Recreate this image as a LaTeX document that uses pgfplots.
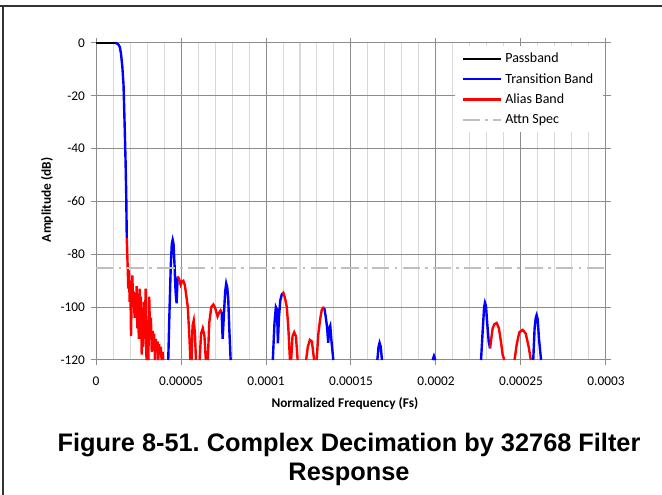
\documentclass[border=0pt]{standalone}
\usepackage{pgfplots}
\pgfplotsset{compat=1.18}
\usepackage{fontspec}
\setmainfont{Carlito}
\newfontfamily\arialfont{Liberation Sans}
\frenchspacing

\definecolor{majgrid}{RGB}{140,140,140}
\definecolor{mingrid}{RGB}{217,217,217}
\definecolor{specgray}{RGB}{191,191,191}
\definecolor{xlblue}{RGB}{0,0,255}
\definecolor{xlred}{RGB}{255,0,0}

\pgfplotstableread{
x y
0 0
1.12e-5 0
}\passband

\pgfplotstableread{
x y
1.12e-5 0
1.22e-5 -0.1
1.32e-5 -0.6
1.40e-5 -1.5
1.47e-5 -4
1.55e-5 -9
1.62e-5 -16
1.68e-5 -30
1.74e-5 -45
1.78e-5 -58
1.81e-5 -73.9
nan nan
4.25e-5 -120
4.33e-5 -100
4.40e-5 -84
4.46e-5 -76
4.51e-5 -74.5
4.56e-5 -76
4.62e-5 -84
4.68e-5 -94
4.74e-5 -98.5
4.78e-5 -92
4.81e-5 -88.4
nan nan
7.39e-5 -101.8
7.45e-5 -112
7.53e-5 -102
7.60e-5 -94
7.66e-5 -91
7.72e-5 -92.5
7.78e-5 -97
7.84e-5 -108
7.92e-5 -120
nan nan
1.040e-4 -120
1.050e-4 -106
1.058e-4 -100
1.065e-4 -101
1.070e-4 -113.7
1.076e-4 -104
1.084e-4 -97.5
1.092e-4 -95.4
1.096e-4 -94.8
nan nan
1.343e-4 -100.4
1.351e-4 -103.5
1.359e-4 -107.4
1.366e-4 -113.5
1.372e-4 -108
1.378e-4 -107
1.384e-4 -112
1.396e-4 -120
nan nan
1.655e-4 -120
1.662e-4 -115
1.668e-4 -113.5
1.675e-4 -115
1.682e-4 -120
nan nan
1.980e-4 -120
1.988e-4 -118.5
1.996e-4 -120
nan nan
2.265e-4 -120
2.275e-4 -108.6
2.283e-4 -100
2.288e-4 -98.3
2.294e-4 -99.5
2.300e-4 -105
2.310e-4 -113
2.318e-4 -115.6
nan nan
2.572e-4 -120
2.580e-4 -108
2.587e-4 -104
2.592e-4 -103
2.598e-4 -104.5
2.606e-4 -112
2.618e-4 -120
}\transition

\pgfplotstableread{
x y
1.81e-5 -73.9
1.86e-5 -84
1.90e-5 -93
1.94e-5 -86
1.98e-5 -98
2.02e-5 -90
2.06e-5 -111
2.10e-5 -95
2.14e-5 -88
2.18e-5 -100
2.22e-5 -94
2.27e-5 -104
2.31e-5 -96
2.35e-5 -102
2.39e-5 -92
2.43e-5 -108
2.47e-5 -98
2.52e-5 -112
2.56e-5 -93
2.60e-5 -100
2.64e-5 -96
2.69e-5 -118
2.73e-5 -104
2.78e-5 -115
2.82e-5 -98
2.87e-5 -112
2.92e-5 -93
2.97e-5 -120
3.02e-5 -105
3.08e-5 -120
3.13e-5 -96
3.18e-5 -110
3.23e-5 -104
3.28e-5 -117
3.33e-5 -109
3.37e-5 -114
3.42e-5 -110
3.47e-5 -120
3.52e-5 -112
3.57e-5 -116
3.62e-5 -113
3.66e-5 -120
3.71e-5 -114
3.76e-5 -118
3.81e-5 -115
3.86e-5 -120
3.92e-5 -117
3.95e-5 -120
nan nan
4.81e-5 -88.4
4.90e-5 -89.5
4.98e-5 -91.5
5.06e-5 -90.3
5.14e-5 -90
5.22e-5 -91.5
5.30e-5 -95
5.40e-5 -100
5.50e-5 -112
5.55e-5 -120
nan nan
5.62e-5 -120
5.68e-5 -107
5.75e-5 -105
5.82e-5 -110
5.88e-5 -120
nan nan
6.10e-5 -120
6.18e-5 -110
6.28e-5 -108
6.38e-5 -111
6.46e-5 -120
nan nan
6.58e-5 -120
6.66e-5 -106
6.78e-5 -100
6.90e-5 -99
7.02e-5 -100.5
7.15e-5 -103.5
7.25e-5 -102
7.33e-5 -101.2
7.39e-5 -101.8
nan nan
1.096e-4 -94.8
1.102e-4 -94.5
1.112e-4 -96.6
1.122e-4 -99.8
1.131e-4 -107.4
1.141e-4 -120
nan nan
1.148e-4 -120
1.156e-4 -111
1.166e-4 -109.5
1.176e-4 -111
1.186e-4 -120
nan nan
1.236e-4 -120
1.246e-4 -115
1.258e-4 -112.4
1.270e-4 -113
1.283e-4 -120
nan nan
1.298e-4 -120
1.308e-4 -110
1.318e-4 -104.8
1.328e-4 -101
1.337e-4 -100.2
1.343e-4 -100.4
nan nan
2.318e-4 -115.6
2.325e-4 -112
2.333e-4 -108
2.343e-4 -106.5
2.357e-4 -106
2.370e-4 -108
2.382e-4 -113
2.392e-4 -118
2.402e-4 -120
nan nan
2.462e-4 -120
2.475e-4 -114
2.490e-4 -109.5
2.510e-4 -108.6
2.528e-4 -110
2.545e-4 -115
2.558e-4 -120
}\alias

\pgfplotstableread{
x y
0 -85
0.0003 -85
}\attn

\begin{document}
\begin{tikzpicture}
\path[use as bounding box] (0pt,0pt) rectangle (496.5pt,-371.25pt);
\draw[black!80, line width=1.1pt] (0pt,-4.5pt) -- (496.5pt,-4.5pt);
\draw[black!80, line width=1.1pt] (2.25pt,-4.5pt) -- (2.25pt,-371.25pt);
\begin{axis}[
  at={(72pt,-270pt)}, anchor=south west,
  scale only axis, width=382.5pt, height=237.75pt,
  xmin=0, xmax=0.0003, ymin=-120, ymax=0,
  clip=false,
  unbounded coords=jump,
  xtick={0,0.00005,0.0001,0.00015,0.0002,0.00025,0.0003},
  xticklabels={0,0.00005,0.0001,0.00015,0.0002,0.00025,0.0003},
  scaled x ticks=false,
  minor x tick num=4,
  ytick={-120,-100,-80,-60,-40,-20,0},
  yticklabels={-120,-100,-80,-60,-40,-20,0},
  grid=both,
  major grid style={draw=majgrid, line width=0.75pt},
  minor grid style={draw=mingrid, line width=0.75pt},
  axis line style={draw=majgrid, line width=0.75pt},
  tick align=outside,
  major tick length=3.75pt, minor tick length=0pt,
  tick style={draw=majgrid, line width=0.75pt},
  ticklabel style={font=\fontsize{10}{12}\selectfont},
  xticklabel style={yshift=-5.5pt},
  yticklabel style={xshift=-1pt},
  xlabel={Normalized Frequency (Fs)}, ylabel={Amplitude (dB)},
  label style={font=\bfseries\fontsize{10}{12}\selectfont},
  xlabel style={at={(axis description cs:0.488,-0.1375)}, anchor=center},
  ylabel style={at={(axis description cs:-0.096,0.505)}, anchor=center},
  legend style={at={(axis description cs:0.994,0.9905)}, anchor=north east,
    draw=none, fill=white, font=\fontsize{10.5}{12}\selectfont,
    cells={anchor=west}, row sep=2.5pt, inner xsep=5pt, inner ysep=3pt},
  legend image code/.code={\draw[#1] (0pt,0pt) -- (29pt,0pt);},
]
\addplot[black, line width=1.8pt] table[x=x,y=y] {\passband};
\addlegendentry{Passband}
\addplot[xlblue, line width=1.8pt] table[x=x,y=y] {\transition};
\addlegendentry{Transition Band}
\addplot[xlred, line width=1.8pt] table[x=x,y=y] {\alias};
\addlegendentry{Alias Band}
\addplot[specgray, line width=1.5pt, dash pattern=on 13pt off 4pt on 2pt off 4pt] table[x=x,y=y] {\attn};
\addlegendentry{Attn Spec}
\end{axis}
\node[font=\arialfont\bfseries\fontsize{19}{22}\selectfont, anchor=base] at (261.75pt,-339pt) {Figure 8-51. Complex Decimation by 32768 Filter};
\node[font=\arialfont\bfseries\fontsize{19}{22}\selectfont, anchor=base] at (261.75pt,-360.75pt) {Response};
\end{tikzpicture}
\end{document}
